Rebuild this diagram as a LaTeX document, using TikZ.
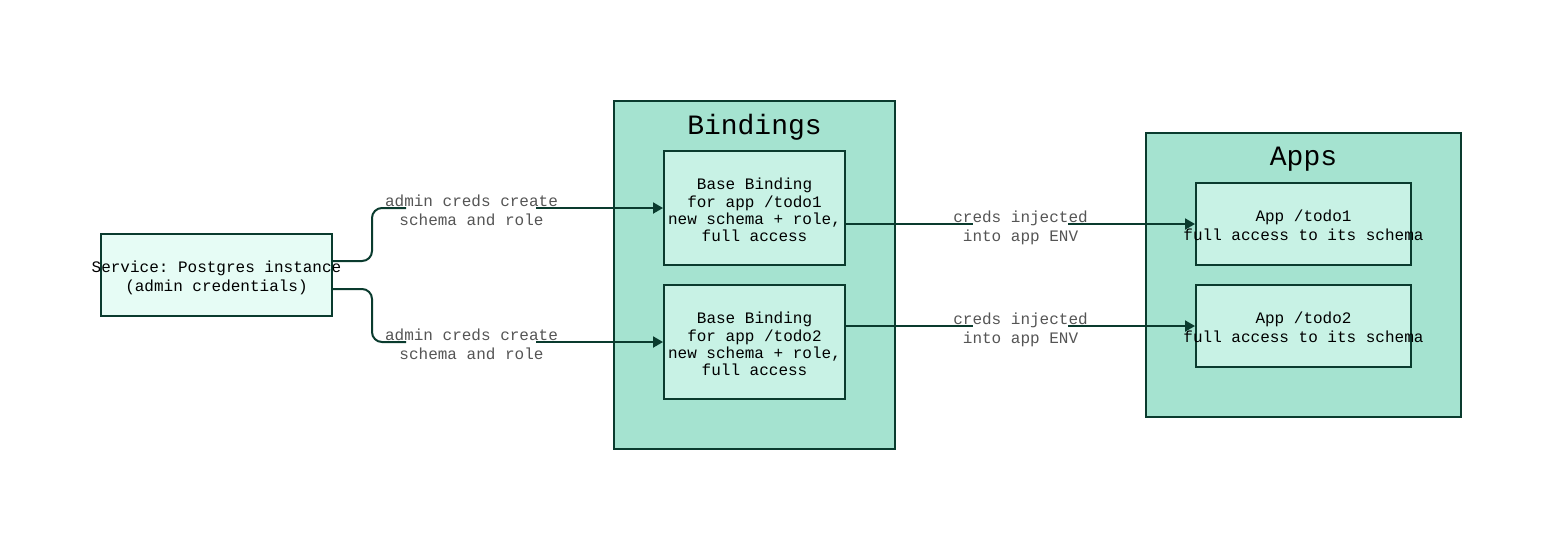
\documentclass[tikz,border=0pt]{standalone}
\usepackage{fontspec}
\setmainfont{Liberation Mono}
\usetikzlibrary{arrows.meta,calc}
\definecolor{ink}{HTML}{0A3B2E}
\definecolor{groupfill}{HTML}{A5E3D0}
\definecolor{innerfill}{HTML}{C8F2E5}
\definecolor{svcfill}{HTML}{E6FCF5}
\definecolor{labelgray}{HTML}{555555}
\frenchspacing
\tikzset{
 box/.style={draw=ink,line width=2pt,inner sep=0pt},
 groupbox/.style={box,fill=groupfill},
 innerbox/.style={box,fill=innerfill},
 svcbox/.style={box,fill=svcfill},
 boxtext/.style={inner sep=0pt,align=center,text=black,font=\fontsize{16}{19}\selectfont},
 bindtext/.style={inner sep=0pt,align=center,text=black,font=\fontsize{16}{17.4}\selectfont},
 grouptitle/.style={inner sep=0pt,text=black,font=\fontsize{28}{33}\selectfont},
 wire/.style={draw=ink,line width=2pt,rounded corners=10pt},
 arrowwire/.style={wire,-{Triangle[length=10pt,width=11pt]}},
 edgelabel/.style={inner sep=0pt,align=center,text=labelgray,font=\fontsize{16}{19}\selectfont},
}
\begin{document}
\begin{tikzpicture}[x=1pt,y=-1pt]
\useasboundingbox[fill=white] (0,0) rectangle (1562,550);
\node[groupbox,minimum width=281pt,minimum height=348pt] (bindings) at (754.5,275) {};
\node[grouptitle] (bindtitle) at (754.5,127) {Bindings};
\node[groupbox,minimum width=315pt,minimum height=284pt] (apps) at (1303.5,275) {};
\node[grouptitle] (appstitle) at (1303.5,159.5) {Apps};
\node[svcbox,minimum width=231pt,minimum height=82pt] (svc) at (216.5,275) {};
\node[innerbox,minimum width=181pt,minimum height=114pt] (b1) at (754.5,208) {};
\node[innerbox,minimum width=181pt,minimum height=114pt] (b2) at (754.5,342) {};
\node[innerbox,minimum width=215pt,minimum height=82pt] (a1) at (1303.5,224) {};
\node[innerbox,minimum width=215pt,minimum height=82pt] (a2) at (1303.5,326) {};
\node[edgelabel] (l1) at (471.5,210.5) {admin creds create\\schema and role};
\node[edgelabel] (l2) at (471.5,344.5) {admin creds create\\schema and role};
\node[edgelabel] (l3) at (1020.5,227.5) {creds injected\\into app ENV};
\node[edgelabel] (l4) at (1020.5,329.5) {creds injected\\into app ENV};
\coordinate (s1) at (332,261);
\coordinate (s2) at (332,289);
\coordinate (e1a) at (406,208);
\coordinate (e1b) at (536,208);
\coordinate (e2a) at (406,342);
\coordinate (e2b) at (536,342);
\coordinate (e3a) at (973,224);
\coordinate (e3b) at (1068,224);
\coordinate (e4a) at (973,326);
\coordinate (e4b) at (1068,326);
\draw[wire] (s1) -- (372,261) -- (372,208) -- (e1a);
\draw[arrowwire] (e1b) -- (b1.west);
\draw[wire] (s2) -- (372,289) -- (372,342) -- (e2a);
\draw[arrowwire] (e2b) -- (b2.west);
\draw[wire] (b1.east |- e3a) -- (e3a);
\draw[arrowwire] (e3b) -- (a1.west);
\draw[wire] (b2.east |- e4a) -- (e4a);
\draw[arrowwire] (e4b) -- (a2.west);
\node[boxtext] (svctext) at (216.5,277.5) {Service: Postgres instance\\(admin credentials)};
\node[bindtext] (b1text) at (754.5,210) {Base Binding\\for app /todo1\\new schema + role,\\full access};
\node[bindtext] (b2text) at (754.5,344) {Base Binding\\for app /todo2\\new schema + role,\\full access};
\node[boxtext] (a1text) at (1303.5,225) {App /todo1\\full access to its schema};
\node[boxtext] (a2text) at (1303.5,327) {App /todo2\\full access to its schema};
\end{tikzpicture}
\end{document}
